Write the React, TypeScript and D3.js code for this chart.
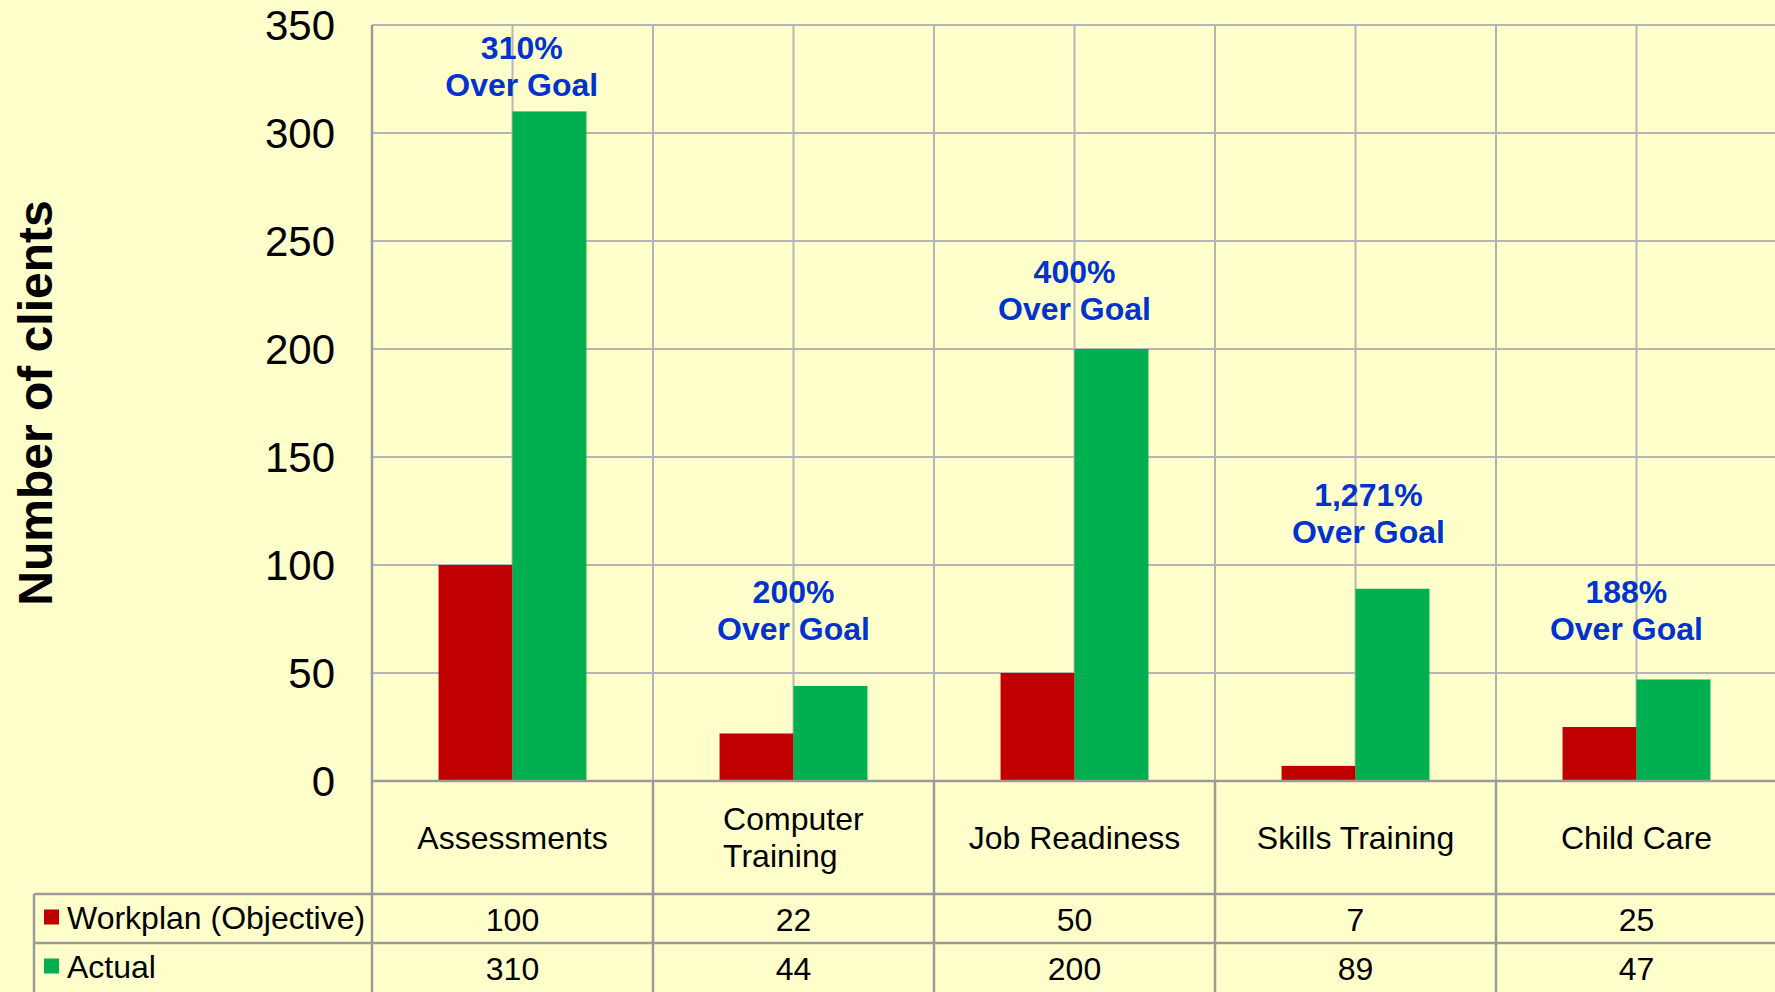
import React, { useRef, useEffect } from 'react';
import * as d3 from 'd3';

// chart data
const categories = ['Assessments', 'Computer Training', 'Job Readiness', 'Skills Training', 'Child Care'];
const categoryLines = [['Assessments'], ['Computer', 'Training'], ['Job Readiness'], ['Skills Training'], ['Child Care']];
const seriesNames = ['Workplan (Objective)', 'Actual'];
const workplan = [100, 22, 50, 7, 25];
const actual = [310, 44, 200, 89, 47];
const yTicks = [0, 50, 100, 150, 200, 250, 300, 350];
// where each "Over Goal" callout sits: level in clients, sideways nudge as share of the category width
const calloutLevel = [331, 79, 227, 124, 79];
const calloutNudge = [0.033, 0, 0, 0.046, -0.036];

const WIDTH = 1775;
const HEIGHT = 992;
const FONT = '"Liberation Sans", Arial, sans-serif';
const COLORS = ['#c00000', '#00b050'];
const GRID = '#b5b5b5';
const AXIS = '#9a9a9a';

const App: React.FC = () => {
  const svgRef = useRef<SVGSVGElement>(null);

  useEffect(() => {
    if (!svgRef.current) return;
    d3.select(svgRef.current).selectAll('*').remove();

    const left = 372;
    const top = 25;
    const zeroY = 781;
    const catW = 281;
    const labelBottom = 894;
    const rowH = 49;
    const tableLeft = 34;
    const right = left + catW * categories.length;

    const svg = d3.select(svgRef.current).attr('width', WIDTH).attr('height', HEIGHT);

    svg.append('rect').attr('width', WIDTH).attr('height', HEIGHT).attr('fill', '#ffffcc');

    const x0 = d3.scaleBand<string>().domain(categories).range([left, right]).padding(0);
    const x1 = d3
      .scaleBand<string>()
      .domain(seriesNames)
      .range([0, x0.bandwidth()])
      .paddingInner(0)
      .paddingOuter(0.9);
    const y = d3.scaleLinear().domain([0, 350]).range([zeroY, top]);

    // horizontal grid
    svg
      .append('g')
      .selectAll('line')
      .data(yTicks.filter((t) => t > 0))
      .enter()
      .append('line')
      .attr('x1', left)
      .attr('x2', right)
      .attr('y1', (d) => y(d))
      .attr('y2', (d) => y(d))
      .attr('stroke', GRID)
      .attr('stroke-width', 2);

    // vertical grid: category centers and boundaries inside plot
    svg
      .append('g')
      .selectAll('line')
      .data(categories)
      .enter()
      .append('line')
      .attr('x1', (d) => (x0(d) as number) + x0.bandwidth() / 2)
      .attr('x2', (d) => (x0(d) as number) + x0.bandwidth() / 2)
      .attr('y1', top)
      .attr('y2', zeroY)
      .attr('stroke', GRID)
      .attr('stroke-width', 2);

    svg
      .append('g')
      .selectAll('line')
      .data(categories.slice(1))
      .enter()
      .append('line')
      .attr('x1', (d) => x0(d) as number)
      .attr('x2', (d) => x0(d) as number)
      .attr('y1', top)
      .attr('y2', zeroY)
      .attr('stroke', GRID)
      .attr('stroke-width', 2);

    // bars
    const seriesValues = [workplan, actual];
    seriesNames.forEach((name, si) => {
      svg
        .append('g')
        .selectAll('rect')
        .data(seriesValues[si])
        .enter()
        .append('rect')
        .attr('x', (_, i) => (x0(categories[i]) as number) + (x1(name) as number))
        .attr('width', x1.bandwidth())
        .attr('y', (d) => y(d))
        .attr('height', (d) => zeroY - y(d))
        .attr('fill', COLORS[si]);
    });

    // table lines
    const tbl = svg.append('g').attr('stroke', AXIS).attr('stroke-width', 2.5);
    tbl.append('line').attr('x1', left).attr('x2', right).attr('y1', zeroY).attr('y2', zeroY);
    tbl.append('line').attr('x1', left).attr('x2', left).attr('y1', top).attr('y2', HEIGHT);
    [labelBottom, labelBottom + rowH].forEach((yy) => {
      tbl.append('line').attr('x1', tableLeft).attr('x2', right).attr('y1', yy).attr('y2', yy);
    });
    tbl.append('line').attr('x1', tableLeft).attr('x2', tableLeft).attr('y1', labelBottom).attr('y2', HEIGHT);
    categories.slice(1).forEach((c) => {
      const xx = x0(c) as number;
      tbl.append('line').attr('x1', xx).attr('x2', xx).attr('y1', zeroY).attr('y2', HEIGHT);
    });

    // y axis
    const yAxis = svg
      .append('g')
      .attr('transform', `translate(${left},0)`)
      .call(d3.axisLeft(y).tickValues(yTicks).tickSize(0).tickPadding(37));
    yAxis.select('.domain').remove();
    yAxis
      .selectAll('text')
      .attr('dy', '0.35em')
      .style('font-family', FONT)
      .style('font-size', '42px')
      .style('fill', '#000');

    svg
      .append('text')
      .attr('transform', `translate(52,403) rotate(-90)`)
      .attr('text-anchor', 'middle')
      .style('font-family', FONT)
      .style('font-size', '48px')
      .style('font-weight', 'bold')
      .text('Number of clients');

    // category labels (left-aligned block, centered in cell)
    const labelMid = (zeroY + labelBottom) / 2;
    categories.forEach((c, i) => {
      const lines = categoryLines[i];
      const g = svg.append('g');
      const t = g
        .append('text')
        .style('font-family', FONT)
        .style('font-size', '32px')
        .attr('fill', '#000');
      lines.forEach((ln, li) => {
        t.append('tspan')
          .attr('x', 0)
          .attr('y', (li - (lines.length - 1) / 2) * 37)
          .attr('dy', '0.35em')
          .text(ln);
      });
      const w = (t.node() as SVGTextElement).getBBox().width;
      const cx = (x0(c) as number) + x0.bandwidth() / 2;
      g.attr('transform', `translate(${cx - w / 2},${labelMid})`);
    });

    // data table rows
    seriesNames.forEach((name, si) => {
      const rowMid = labelBottom + rowH * si + rowH / 2;
      svg
        .append('rect')
        .attr('x', 44)
        .attr('y', rowMid - 9)
        .attr('width', 15)
        .attr('height', 15)
        .attr('fill', COLORS[si]);
      svg
        .append('text')
        .attr('x', 67)
        .attr('y', rowMid - 1)
        .attr('dy', '0.35em')
        .style('font-family', FONT)
        .style('font-size', '32px')
        .text(name);
      svg
        .append('g')
        .selectAll('text')
        .data(seriesValues[si])
        .enter()
        .append('text')
        .attr('x', (_, i) => (x0(categories[i]) as number) + x0.bandwidth() / 2)
        .attr('y', rowMid + 1)
        .attr('dy', '0.35em')
        .attr('text-anchor', 'middle')
        .style('font-family', FONT)
        .style('font-size', '32px')
        .text((d) => d);
    });

    // over goal callouts
    const pct = d3.format(',.0f');
    categories.forEach((c, i) => {
      const cx = (x0(c) as number) + x0.bandwidth() * (0.5 + calloutNudge[i]);
      const cy = y(calloutLevel[i]);
      const t = svg
        .append('text')
        .attr('text-anchor', 'middle')
        .style('font-family', FONT)
        .style('font-size', '32px')
        .style('font-weight', 'bold')
        .attr('fill', '#0033cc');
      t.append('tspan')
        .attr('x', cx)
        .attr('y', cy - 18.5)
        .attr('dy', '0.35em')
        .text(`${pct((actual[i] / workplan[i]) * 100)}%`);
      t.append('tspan').attr('x', cx).attr('y', cy + 18.5).attr('dy', '0.35em').text('Over Goal');
    });
  }, []);

  return (
    <div>
      <svg ref={svgRef} style={{ position: 'absolute', left: 0, top: 0, display: 'block' }}></svg>
    </div>
  );
};

export default App;
